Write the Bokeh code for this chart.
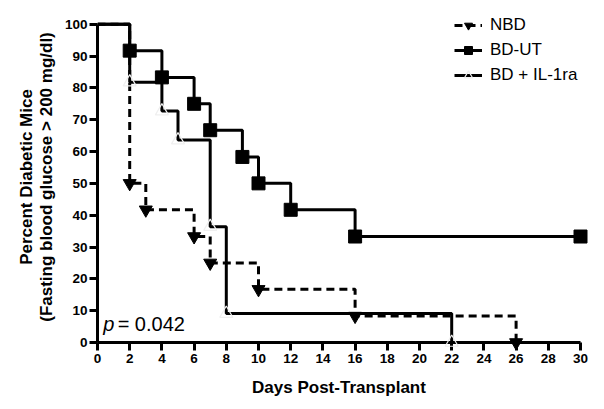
from bokeh.plotting import figure
from bokeh.models import FixedTicker, Range1d, Legend, LegendItem, Label
from bokeh.embed import file_html
from bokeh.resources import INLINE

# Data (Kaplan-Meier curves)
nbd_days = [0, 2, 3, 6, 7, 10, 16, 26]
nbd_pct = [100, 50, 41.7, 33.3, 25, 16.7, 8.3, 0]

bdut_days = [0, 2, 4, 6, 7, 9, 10, 12, 16, 30]
bdut_pct = [100, 91.7, 83.3, 75, 66.7, 58.3, 50, 41.7, 33.3, 33.3]

il_days = [0, 2, 4, 5, 7, 8, 22]
il_pct = [100, 81.8, 72.7, 63.6, 36.4, 9.1, 0]

x_ticks = list(range(0, 31, 2))
y_ticks = list(range(0, 101, 10))

FONT = "Liberation Sans"

p = figure(width=596, height=401, output_backend="svg", toolbar_location=None,
           x_range=Range1d(0, 30), y_range=Range1d(0, 104),
           min_border_left=97, min_border_right=16, min_border_top=11, min_border_bottom=59)
p.outline_line_color = None
p.xgrid.visible = False
p.ygrid.visible = False
p.background_fill_color = "white"

for ax in (p.xaxis[0], p.yaxis[0]):
    ax.axis_line_width = 3
    ax.major_tick_line_width = 3
    ax.major_tick_out = 8
    ax.major_tick_in = 0
    ax.minor_tick_line_color = None
    ax.major_label_text_font = FONT
    ax.major_label_text_font_style = "bold"
    ax.major_label_text_font_size = "13.5px"
    ax.major_label_text_color = "black"
    ax.axis_label_text_font = FONT
    ax.axis_label_text_font_style = "bold"
    ax.axis_label_text_font_size = "17px"
    ax.axis_label_text_color = "black"

p.yaxis.bounds = (0, 100)
p.xaxis.ticker = FixedTicker(ticks=x_ticks)
p.yaxis.ticker = FixedTicker(ticks=y_ticks)
p.xaxis.major_label_standoff = 3
p.yaxis.major_label_standoff = 2
p.xaxis.axis_label = "Days Post-Transplant"
p.yaxis.axis_label = "Percent Diabetic Mice\n(Fasting blood glucose > 200 mg/dl)"
p.yaxis.axis_label_text_font_size = "17px"
p.yaxis.axis_label_text_line_height = 1.05
p.xaxis.axis_label_standoff = 12
p.yaxis.axis_label_standoff = 6

# IL-1ra
il_line = p.step(il_days, il_pct, mode="after", line_width=3, line_color="black")
il_mk = p.scatter(il_days[1:], il_pct[1:], marker="triangle", size=13,
                  fill_color=None, line_color="#efefef", line_width=1.2, level="overlay")

# BD-UT
bd_line = p.step(bdut_days, bdut_pct, mode="after", line_width=3, line_color="black")
bd_mk = p.scatter(bdut_days[1:], bdut_pct[1:], marker="square", size=13,
                  fill_color="black", line_color="black", level="overlay")

# NBD
nbd_line = p.step(nbd_days, nbd_pct, mode="after", line_width=3, line_color="black",
                  line_dash="8 5")
nbd_mk = p.scatter(nbd_days[1:], nbd_pct[1:], marker="inverted_triangle", size=13,
                   fill_color="black", line_color="black", level="overlay")

legend = Legend(items=[
    LegendItem(label="NBD", renderers=[nbd_line, nbd_mk]),
    LegendItem(label="BD-UT", renderers=[bd_line, bd_mk]),
    LegendItem(label="BD + IL-1ra", renderers=[il_line, il_mk]),
], location=(357, 257))
legend.border_line_color = None
legend.background_fill_alpha = 0
legend.padding = 0
legend.margin = 0
legend.spacing = 5
legend.glyph_width = 28
legend.glyph_height = 20
legend.label_height = 20
legend.label_standoff = 8
legend.label_text_font = FONT
legend.label_text_font_size = "17px"
legend.label_text_color = "black"
p.add_layout(legend, "center")

p.add_layout(Label(x=0.35, y=2.2, text="p", text_font=FONT, text_font_style="italic",
                   text_font_size="20px", text_color="black"))
p.add_layout(Label(x=1.25, y=2.2, text="= 0.042", text_font=FONT,
                   text_font_size="20px", text_color="black"))

open("out.html", "w").write(file_html(p, INLINE))
